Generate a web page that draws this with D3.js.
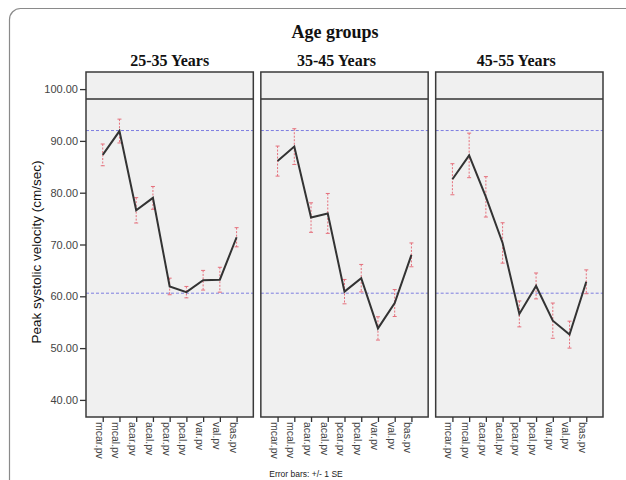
<!DOCTYPE html>
<html>
<head>
<meta charset="utf-8">
<script src="https://cdn.jsdelivr.net/npm/d3@7/dist/d3.min.js"></script>
<style>
  html, body { margin: 0; padding: 0; background: #fff; }
  svg { display: block; }
</style>
</head>
<body>
<svg id="chart" width="626" height="480"></svg>
<script>
// ---- data ----
const ageGroups = ["25-35 Years", "35-45 Years", "45-55 Years"];
const vessels = ["mcar.pv", "mcal.pv", "acar.pv", "acal.pv", "pcar.pv", "pcal.pv", "var.pv", "val.pv", "bas.pv"];
const means25 = [87.3, 91.9, 76.6, 79.0, 61.9, 60.8, 63.1, 63.2, 71.4];
const se25    = [2.1, 2.3, 2.45, 2.2, 1.6, 1.1, 1.9, 2.4, 1.85];
const means35 = [86.1, 88.9, 75.2, 76.0, 60.9, 63.5, 53.8, 58.7, 68.0];
const se35    = [2.9, 3.45, 2.85, 3.85, 2.35, 2.65, 2.25, 2.6, 2.3];
const means45 = [82.6, 87.2, 79.2, 70.3, 56.6, 62.0, 55.3, 52.6, 62.8];
const se45    = [3.0, 4.3, 3.9, 3.9, 2.5, 2.5, 3.4, 2.6, 2.3];
const refLines = [92.0, 60.6];
const yTicks = [40, 50, 60, 70, 80, 90, 100];
const yDomain = [36.7, 103.3];
const headerValue = 98.1;
const mainTitle = "Age groups";
const yTitle = "Peak systolic velocity (cm/sec)";
const footnote = "Error bars: +/- 1 SE";

const series = [
  {group: ageGroups[0], means: means25, se: se25, titleShift: 0},
  {group: ageGroups[1], means: means35, se: se35, titleShift: -8},
  {group: ageGroups[2], means: means45, se: se45, titleShift: -3}
];

// ---- layout ----
const svg = d3.select("#chart");
const panelTop = 72, panelBottom = 417;

// outer frame
svg.append("rect")
  .attr("x", 9.5).attr("y", 8.5)
  .attr("width", 700).attr("height", 600)
  .attr("rx", 11)
  .attr("fill", "#fff")
  .attr("stroke", "#8a8a8a").attr("stroke-width", 1.2);

const xPanel = d3.scaleBand().domain(ageGroups).range([86, 603]).paddingInner(0.043);
const y = d3.scaleLinear().domain(yDomain).range([panelBottom, panelTop]);

// main title
svg.append("text")
  .attr("x", 335).attr("y", 38)
  .attr("text-anchor", "middle")
  .attr("font-family", "'Liberation Serif', 'Times New Roman', serif")
  .attr("font-weight", "bold").attr("font-size", 18)
  .attr("fill", "#111")
  .text(mainTitle);

// y axis
const yAxis = d3.axisLeft(y).tickValues(yTicks).tickFormat(d3.format(".2f")).tickSize(6).tickPadding(2);
const yg = svg.append("g").attr("transform", `translate(${xPanel(ageGroups[0])},0)`).call(yAxis);
yg.select(".domain").remove();
yg.selectAll(".tick line").attr("stroke", "#333").attr("stroke-width", 1.3);
yg.selectAll(".tick text")
  .attr("font-family", "'Liberation Sans', Arial, sans-serif")
  .attr("font-size", 11).attr("fill", "#444");

// y title
svg.append("text")
  .attr("transform", "translate(41,252) rotate(-90)")
  .attr("text-anchor", "middle")
  .attr("font-family", "'Liberation Sans', Arial, sans-serif")
  .attr("font-size", 13.5).attr("fill", "#111")
  .text(yTitle);

const line = d3.line().x(d => d.x).y(d => y(d.v));

series.forEach(s => {
  const x0 = xPanel(s.group);
  const w = xPanel.bandwidth();
  const xp = d3.scalePoint().domain(vessels).range([x0, x0 + w]).padding(1);
  const g = svg.append("g");

  // panel title
  svg.append("text")
    .attr("x", x0 + w / 2 + s.titleShift).attr("y", 66)
    .attr("text-anchor", "middle")
    .attr("font-family", "'Liberation Serif', 'Times New Roman', serif")
    .attr("font-weight", "bold").attr("font-size", 16)
    .attr("fill", "#111")
    .text(s.group);

  // panel background
  g.append("rect")
    .attr("x", x0).attr("y", panelTop)
    .attr("width", w).attr("height", panelBottom - panelTop)
    .attr("fill", "#f0f0f0");

  // reference lines
  g.selectAll(".ref").data(refLines).enter().append("line")
    .attr("x1", x0).attr("x2", x0 + w)
    .attr("y1", d => y(d)).attr("y2", d => y(d))
    .attr("stroke", "#7d7de0").attr("stroke-width", 1)
    .attr("stroke-dasharray", "3,2");

  // error bars
  const pts = vessels.map((v, i) => ({x: xp(v), v: s.means[i], se: s.se[i]}));
  const eb = g.selectAll(".eb").data(pts).enter().append("g").attr("class", "eb");
  eb.append("line")
    .attr("x1", d => d.x).attr("x2", d => d.x)
    .attr("y1", d => y(d.v + d.se)).attr("y2", d => y(d.v - d.se))
    .attr("stroke", "#e5707c").attr("stroke-width", 1)
    .attr("stroke-dasharray", "2,1.5");
  [1, -1].forEach(sign => {
    eb.append("line")
      .attr("x1", d => d.x - 2).attr("x2", d => d.x + 2)
      .attr("y1", d => y(d.v + sign * d.se)).attr("y2", d => y(d.v + sign * d.se))
      .attr("stroke", "#e5707c").attr("stroke-width", 1);
  });

  // mean line
  g.append("path")
    .datum(pts)
    .attr("d", line)
    .attr("fill", "none")
    .attr("stroke", "#333").attr("stroke-width", 2)
    .attr("stroke-linejoin", "miter");

  // header separator line
  g.append("line")
    .attr("x1", x0).attr("x2", x0 + w)
    .attr("y1", y(headerValue)).attr("y2", y(headerValue))
    .attr("stroke", "#333").attr("stroke-width", 1.5);

  // panel border
  g.append("rect")
    .attr("x", x0).attr("y", panelTop)
    .attr("width", w).attr("height", panelBottom - panelTop)
    .attr("fill", "none")
    .attr("stroke", "#3a3a3a").attr("stroke-width", 1.5);

  // x axis
  const xAxis = d3.axisBottom(xp).tickSize(5).tickSizeOuter(0);
  const xg = svg.append("g").attr("transform", `translate(0,${panelBottom})`).call(xAxis);
  xg.select(".domain").remove();
  xg.selectAll(".tick line").attr("stroke", "#333").attr("stroke-width", 1.3);
  xg.selectAll(".tick text")
    .attr("transform", "translate(0,5) rotate(90)")
    .attr("x", 0).attr("y", 0).attr("dy", "0.72em")
    .attr("text-anchor", "start")
    .attr("font-family", "'Liberation Sans', Arial, sans-serif")
    .attr("font-size", 10.5).attr("fill", "#444");
});

// footnote
svg.append("text")
  .attr("x", 306).attr("y", 477)
  .attr("text-anchor", "middle")
  .attr("font-family", "'Liberation Sans', Arial, sans-serif")
  .attr("font-size", 8.5).attr("fill", "#222")
  .text(footnote);
</script>
</body>
</html>
